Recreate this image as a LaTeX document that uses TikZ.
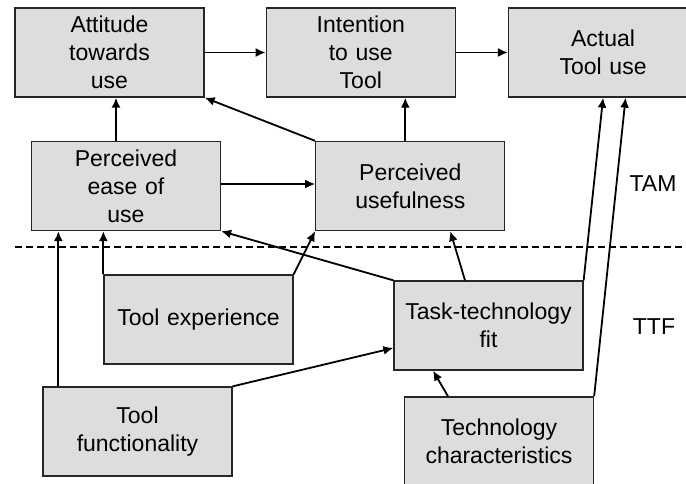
\documentclass[tikz,border=0pt]{standalone}
\usepackage{fontspec}
\setmainfont{Liberation Sans}
\usetikzlibrary{arrows.meta, positioning}

\begin{document}
\begin{tikzpicture}[x=1pt, y=-1pt,
        box/.style={rectangle, draw=black!85, line width=1.3pt, fill=gray!27, minimum width=189pt, minimum height=89pt, text width=180pt, align=center, inner sep=0pt, font=\fontsize{23}{28}\selectfont},
        link/.style={-{Latex[length=10pt, width=9pt]}, line width=1.8pt},
        lbl/.style={font=\fontsize{23}{28}\selectfont},
        node distance=1cm]
        \useasboundingbox (0,0) rectangle (686,483);
        % TAM part
        \node[box] (att) at (109.5,52.5) {Attitude\\towards\\use};
        \node[box] (int) [right = 61pt of att] {Intention\\to use\\Tool};
        \node[box] (act) [right = 52pt of int] {Actual\\Tool use};
        \node[box] (peou) at (126,186) {Perceived\\ease of\\use};
        \node[box] (pu) [right = 94pt of peou] {Perceived\\usefulness};
        % TTF part
        \node[box] (exp) at (198.5,319.5) {Tool experience};
        \node[box] (ttf) at (488.5,325.5) {Task-technology\\fit};
        \node[box] (func) at (137.5,431.5) {Tool\\functionality};
        \node[box] (tech) at (499,441.5) {Technology\\characteristics};

        \node[lbl] (tam) at (653,184) {TAM};
        \node[lbl] (ttflbl) at (654,327) {TTF};

        \coordinate (sepL) at (15,247);
        \coordinate (sepR) at (686,247);
        \draw[line width=1.5pt, dash pattern=on 7pt off 4pt] (sepL) -- (sepR);

        \path[link]  (att) edge (int);
        \path[link]  (int) edge (act);
        \path[link]  ([xshift=-10pt]peou.north) edge ([xshift=-10pt]peou.north |- att.south);
        \path[link]  ([xshift=-5pt]pu.north) edge ([xshift=-5pt]pu.north |- int.south);
        \path[link]  (pu.north west) edge (att.south east);
        \path[link]  ([yshift=2pt]peou.east) edge ([yshift=2pt]pu.west);
        \path[link]  ([xshift=16pt]func.north west) edge ([xshift=16pt]func.north west |- peou.south);
        \path[link]  (exp.north west) edge (exp.north west |- peou.south);
        \path[link]  (exp.north east) edge (pu.south west);
        \path[link]  (ttf.north west) edge (peou.south east);
        \path[link]  ([xshift=-23.5pt]ttf.north) edge ([xshift=40pt]pu.south);
        \path[link]  (ttf.north east) edge (act.south);
        \path[link]  (tech.north east) edge ([xshift=22.5pt]act.south);
        \path[link]  ([xshift=-51pt]tech.north) edge ([xshift=-55.5pt]ttf.south);
        \path[link]  (func.north east) edge ([yshift=-22.5pt]ttf.west);
\end{tikzpicture}
\end{document}
